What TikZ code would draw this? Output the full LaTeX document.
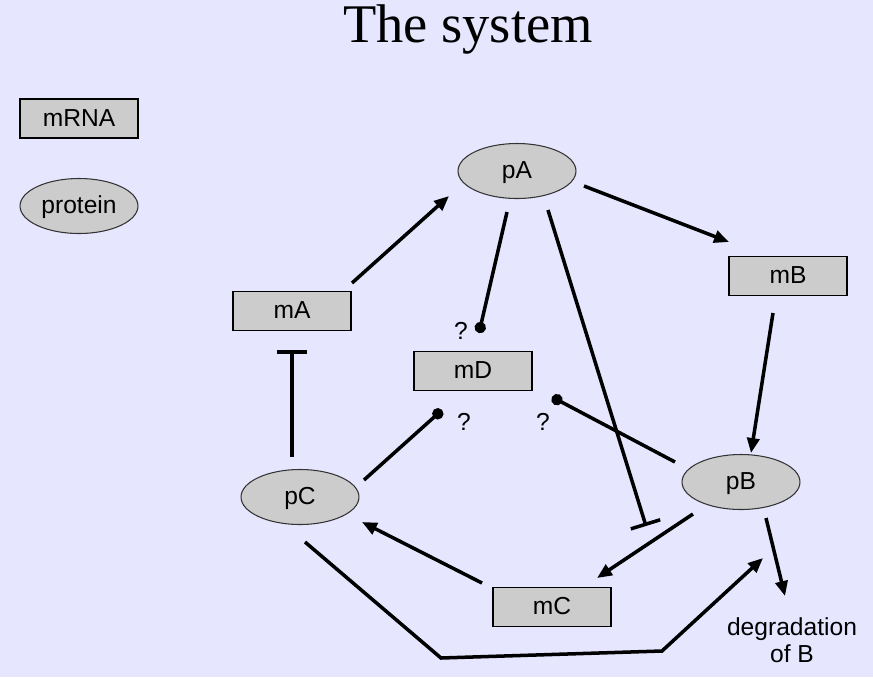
\documentclass[tikz,border=0pt]{standalone}
\usepackage{fontspec}
\setmainfont{Liberation Sans}
\newfontfamily\titlefont{Liberation Serif}
\usetikzlibrary{arrows.meta,shapes.geometric}
\definecolor{bg}{RGB}{230,230,255}
\definecolor{boxfill}{RGB}{204,204,204}
\begin{document}
\begin{tikzpicture}[x=0.02cm,y=-0.02cm,
  mrna/.style={draw=black,line width=0.6pt,fill=boxfill,rectangle,minimum width=2.36cm,minimum height=0.78cm,inner sep=0pt,text height=10pt,text depth=1pt,font=\fontsize{14}{16}\selectfont},
  prot/.style={draw=black!80,line width=0.6pt,fill=boxfill,ellipse,minimum width=2.36cm,minimum height=1.1cm,inner sep=0pt,text height=10pt,text depth=1pt,font=\fontsize{14}{16}\selectfont},
  lbl/.style={font=\fontsize{14}{16}\selectfont,inner sep=0pt},
  act/.style={line width=2pt,-{Triangle[length=8.5pt,width=7pt]}},
  inh/.style={line width=2pt,-{Bar[width=17.5pt,line width=2pt]}},
  unk/.style={line width=2pt,-{Circle[length=6.4pt]}}]
\fill[bg] (0,0) rectangle (873,677);
\useasboundingbox (0,0) rectangle (873,677);
\node[font=\titlefont\fontsize{31}{34}\selectfont] (title) at (468,29) {The system};
\node[mrna] (lmrna) at (79,118.5) {mRNA};
\node[prot] (lprot) at (79,206) {protein};
\node[prot] (pA) at (517,171) {pA};
\node[mrna] (mB) at (788,276) {mB};
\node[mrna] (mA) at (292,311) {mA};
\node[mrna] (mD) at (473,371) {mD};
\node[prot] (pB) at (741,482) {pB};
\node[prot] (pC) at (300,497) {pC};
\node[mrna] (mC) at (552,607) {mC};
\node[lbl,align=center,font=\fontsize{14}{15.5}\selectfont] (deg) at (792,640) {degradation\\of B};
\node[lbl] (q1) at (461,331) {?};
\node[lbl] (q2) at (464,422) {?};
\node[lbl] (q3) at (543,422) {?};
% endpoints
\coordinate (mAo) at (352,283); \coordinate (pAi) at (449,196);
\coordinate (pAo1) at (584,186); \coordinate (mBi) at (729,242);
\coordinate (mBo) at (773,313); \coordinate (pBi) at (751,453);
\coordinate (pBo1) at (693,514); \coordinate (mCi) at (597,578);
\coordinate (mCo) at (482,583); \coordinate (pCi) at (362,522);
\coordinate (pCo1) at (292,457); \coordinate (mAi) at (292,350);
\coordinate (pAo2) at (548,210); \coordinate (mCb) at (646,526);
\coordinate (pAo3) at (507,212); \coordinate (mDa) at (479,333);
\coordinate (pCo2) at (364,480); \coordinate (mDb) at (442,410);
\coordinate (pBo2) at (675,462); \coordinate (mDc) at (552,397);
\coordinate (pCo3) at (305,542); \coordinate (k1) at (441,658); \coordinate (k2) at (662,651); \coordinate (pBi2) at (763,558);
\coordinate (pBo3) at (766,518); \coordinate (degi) at (785,596);
\draw[act] (mAo) -- (pAi);
\draw[act] (pAo1) -- (mBi);
\draw[act] (mBo) -- (pBi);
\draw[act] (pBo1) -- (mCi);
\draw[act] (mCo) -- (pCi);
\draw[inh] (pCo1) -- (mAi);
\draw[inh] (pAo2) -- (mCb);
\draw[unk] (pAo3) -- (mDa);
\draw[unk] (pCo2) -- (mDb);
\draw[unk] (pBo2) -- (mDc);
\draw[act] (pCo3) -- (k1) -- (k2) -- (pBi2);
\draw[act] (pBo3) -- (degi);
\end{tikzpicture}
\end{document}
